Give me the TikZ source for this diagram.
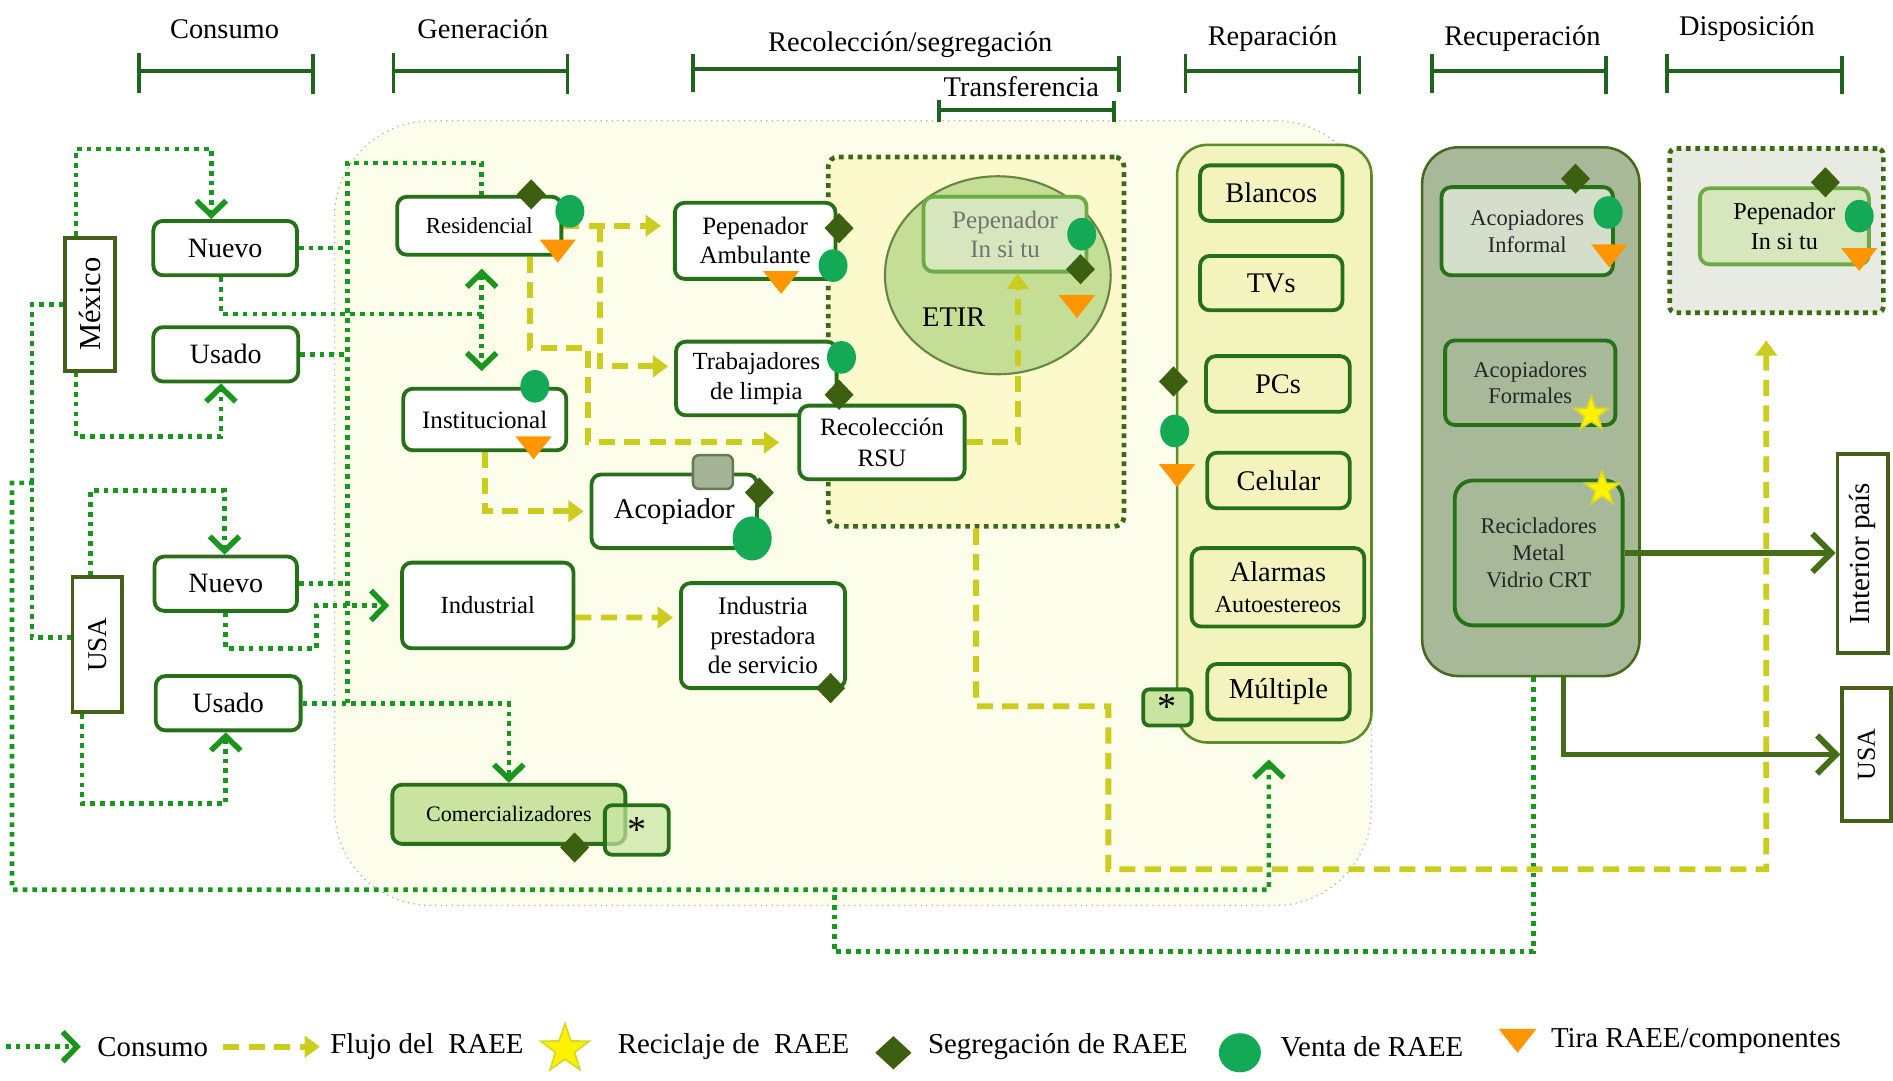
\documentclass[tikz,border=0pt]{standalone}
\usepackage{fontspec}
\setmainfont{Liberation Serif}
\usetikzlibrary{arrows.meta,calc}

\definecolor{cajaverde}{RGB}{38,112,24}
\definecolor{consverde}{RGB}{24,150,30}
\definecolor{flujoamarillo}{RGB}{204,204,30}
\definecolor{segverde}{RGB}{60,96,16}
\definecolor{ventaverde}{RGB}{20,170,85}
\definecolor{tiranaranja}{RGB}{255,150,0}
\definecolor{estrellaborde}{RGB}{215,215,40}
\definecolor{zonafondo}{RGB}{253,253,236}
\definecolor{etirfondo}{RGB}{252,249,204}
\definecolor{etirborde}{RGB}{62,105,20}
\definecolor{etircirculo}{RGB}{196,222,150}
\definecolor{repfondo}{RGB}{243,243,190}
\definecolor{repborde}{RGB}{90,140,40}
\definecolor{recfondo}{RGB}{168,185,154}
\definecolor{recborde}{RGB}{70,105,30}
\definecolor{acofondo}{RGB}{213,221,203}
\definecolor{dispfondo}{RGB}{232,235,226}
\definecolor{pepfondo}{RGB}{214,231,190}
\definecolor{pepborde}{RGB}{110,170,70}
\definecolor{comerfondo}{RGB}{200,228,160}
\definecolor{etiqborde}{RGB}{70,95,25}
\definecolor{exportverde}{RGB}{70,110,25}
\definecolor{barraverde}{RGB}{30,100,30}
\definecolor{grisfondo}{RGB}{165,180,150}
\definecolor{grisborde}{RGB}{100,125,80}

\pgfdeclarelayer{fondo}
\pgfdeclarelayer{lineas}
\pgfsetlayers{fondo,lineas,main}

\tikzset{
  barba/.tip={Straight Barb[length=3.4pt,width=7pt,line width=1.3pt]},
  caja/.style={draw=cajaverde, line width=0.9pt, rounded corners=0.08cm, fill=white, inner sep=0pt, align=center},
  etiqueta/.style={draw=etiqborde, line width=0.9pt, fill=white, inner sep=0pt},
  consumo/.style={draw=consverde, line width=1.1pt, dash pattern=on 1.1pt off 1.2pt, -barba},
  flujo/.style={draw=flujoamarillo, line width=1.4pt, dash pattern=on 3.8pt off 2.2pt, -{Triangle[length=3.6pt,width=5pt]}},
  exporta/.style={draw=exportverde, line width=1.3pt, -{Straight Barb[length=4.5pt,width=9pt,line width=1.4pt]}},
  barra/.style={draw=barraverde, line width=0.9pt},
  encabezado/.style={font=\fontsize{6.7}{7.5}\selectfont, inner sep=0pt},
  leyenda/.style={font=\fontsize{6.8}{7.5}\selectfont, inner sep=0pt, anchor=west},
  seg/.pic={\fill[segverde] (-0.12,0) -- (0,0.125) -- (0.12,0) -- (0,-0.125) -- cycle;},
  venta/.pic={\fill[ventaverde] (0,0) ellipse (0.12 and 0.135);},
  tira/.pic={\fill[tiranaranja] (-0.15,0.075) -- (0.15,0.075) -- (0,-0.115) -- cycle;},
  recicla/.pic={\filldraw[fill=yellow, draw=estrellaborde, line width=0.4pt] (90:0.15) -- (126:0.06) -- (162:0.15) -- (198:0.06) -- (234:0.15) -- (270:0.06) -- (306:0.15) -- (342:0.06) -- (18:0.15) -- (54:0.06) -- cycle;},
}

\begin{document}
\begin{tikzpicture}
  % fondo
  \begin{pgfonlayer}{fondo}
    \useasboundingbox (0,0) rectangle (15.68,-8.95);
    \fill[white] (0,0) rectangle (15.68,-8.95);
    \node[draw=gray!60, densely dotted, line width=0.3pt, fill=zonafondo, rounded corners=0.8cm, minimum width=8.59cm, minimum height=6.50cm, inner sep=0pt] (zonaGen) at (7.065,-4.25) {};
    \node[draw=etirborde, line width=1.1pt, dash pattern=on 1.1pt off 1.1pt, fill=etirfondo, rounded corners=0.08cm, minimum width=2.45cm, minimum height=3.06cm, inner sep=0pt] (etirBox) at (8.085,-2.83) {};
    \filldraw[fill=etircirculo, draw=etirborde!80, line width=0.5pt] (8.265,-2.28) ellipse (0.935 and 0.82);
    \node[draw=repborde, line width=0.6pt, fill=repfondo, rounded corners=0.25cm, minimum width=1.61cm, minimum height=4.95cm, inner sep=0pt] (repPanel) at (10.555,-3.675) {};
    \node[draw=recborde, line width=0.6pt, fill=recfondo, rounded corners=0.3cm, minimum width=1.80cm, minimum height=4.38cm, inner sep=0pt] (recPanel) at (12.68,-3.41) {};
    \node[draw=etirborde, line width=1.1pt, dash pattern=on 1.1pt off 1.1pt, fill=dispfondo, rounded corners=0.05cm, minimum width=1.77cm, minimum height=1.36cm, inner sep=0pt] (dispBox) at (14.715,-1.91) {};
  \end{pgfonlayer}

  % encabezados
  \node[encabezado] (hConsumo) at (1.86,-0.24) {Consumo};
  \draw[barra] (1.15,-0.44) -- (1.15,-0.77) (1.15,-0.585) -- (2.59,-0.585) (2.59,-0.45) -- (2.59,-0.78);
  \node[encabezado] (hGeneracion) at (4.00,-0.24) {Generación};
  \draw[barra] (3.26,-0.44) -- (3.26,-0.77) (3.26,-0.585) -- (4.70,-0.585) (4.70,-0.45) -- (4.70,-0.78);
  \node[encabezado] (hRecoleccion) at (7.54,-0.37) {Recolección/segregación};
  \draw[barra] (5.74,-0.45) -- (5.74,-0.76) (5.74,-0.57) -- (9.27,-0.57) (9.27,-0.46) -- (9.27,-0.76);
  \node[encabezado] (hTransferencia) at (8.46,-0.72) {Transferencia};
  \draw[barra] (7.78,-0.83) -- (7.78,-1.01) (7.78,-0.91) -- (9.23,-0.91) (9.23,-0.84) -- (9.23,-1.01);
  \node[encabezado] (hReparacion) at (10.54,-0.32) {Reparación};
  \draw[barra] (9.82,-0.45) -- (9.82,-0.77) (9.82,-0.585) -- (11.26,-0.585) (11.26,-0.46) -- (11.26,-0.78);
  \node[encabezado] (hRecuperacion) at (12.61,-0.32) {Recuperación};
  \draw[barra] (11.86,-0.45) -- (11.86,-0.77) (11.86,-0.585) -- (13.30,-0.585) (13.30,-0.46) -- (13.30,-0.78);
  \node[encabezado] (hDisposicion) at (14.47,-0.24) {Disposición};
  \draw[barra] (13.81,-0.45) -- (13.81,-0.77) (13.81,-0.585) -- (15.26,-0.585) (15.26,-0.46) -- (15.26,-0.78);

  % consumo
  \node[etiqueta, minimum width=0.41cm, minimum height=1.10cm, font=\fontsize{7.2}{8}\selectfont] (mexico) at (0.745,-2.52) {\rotatebox{90}{México}};
  \node[etiqueta, minimum width=0.41cm, minimum height=1.12cm, font=\fontsize{6.4}{7}\selectfont] (usa) at (0.805,-5.34) {\rotatebox{90}{USA}};
  \node[caja, minimum width=1.19cm, minimum height=0.45cm, font=\fontsize{6.6}{7.5}\selectfont] (mxNuevo) at (1.865,-2.055) {Nuevo};
  \node[caja, minimum width=1.20cm, minimum height=0.45cm, font=\fontsize{6.6}{7.5}\selectfont] (mxUsado) at (1.87,-2.935) {Usado};
  \node[caja, minimum width=1.18cm, minimum height=0.45cm, font=\fontsize{6.6}{7.5}\selectfont] (usNuevo) at (1.87,-4.835) {Nuevo};
  \node[caja, minimum width=1.20cm, minimum height=0.45cm, font=\fontsize{6.6}{7.5}\selectfont] (usUsado) at (1.89,-5.825) {Usado};

  % generacion
  \node[caja, minimum width=1.36cm, minimum height=0.48cm, font=\fontsize{5.4}{6.5}\selectfont] (residencial) at (3.97,-1.87) {Residencial};
  \node[caja, minimum width=1.35cm, minimum height=0.51cm, font=\fontsize{5.9}{6.8}\selectfont] (institucional) at (4.015,-3.475) {Institucional};
  \node[caja, minimum width=1.42cm, minimum height=0.71cm, font=\fontsize{5.8}{6.8}\selectfont] (industrial) at (4.04,-5.015) {Industrial};
  \node[caja, fill=comerfondo, minimum width=1.93cm, minimum height=0.49cm, font=\fontsize{5.2}{6.2}\selectfont] (comercial) at (4.215,-6.745) {Comercializadores};
  \node[caja, fill=comerfondo, fill opacity=0.7, text opacity=1, rounded corners=0.06cm, minimum width=0.53cm, minimum height=0.41cm, font=\fontsize{9}{9}\selectfont] (astCom) at (5.275,-6.875) {*};

  % recoleccion
  \node[caja, minimum width=1.33cm, minimum height=0.63cm, font=\fontsize{5.9}{6.8}\selectfont] (pepAmb) at (6.255,-1.995) {Pepenador\\Ambulante};
  \node[caja, minimum width=1.33cm, minimum height=0.61cm, font=\fontsize{5.8}{7.0}\selectfont] (trabaj) at (6.265,-3.135) {Trabajadores\\de limpia};
  \node[caja, minimum width=1.37cm, minimum height=0.61cm, font=\fontsize{5.9}{7.1}\selectfont] (rsu) at (7.305,-3.665) {Recolección\\RSU};
  \node[caja, minimum width=1.37cm, minimum height=0.61cm, font=\fontsize{6.75}{7.5}\selectfont] (acopiador) at (5.585,-4.235) {Acopiador};
  \node[draw=grisborde, line width=0.6pt, fill=grisfondo, rounded corners=0.05cm, minimum width=0.33cm, minimum height=0.28cm, inner sep=0pt] (acoCuad) at (5.905,-3.91) {};
  \node[caja, minimum width=1.36cm, minimum height=0.87cm, font=\fontsize{5.95}{7.0}\selectfont] (indPrest) at (6.32,-5.265) {Industria\\prestadora\\de servicio};
  \node[caja, draw=pepborde, fill=pepfondo, minimum width=1.35cm, minimum height=0.62cm, text=black!55, font=\fontsize{5.9}{6.8}\selectfont] (pepInsitu) at (8.325,-1.94) {Pepenador\\In si tu};
  \node[font=\fontsize{6.7}{7.5}\selectfont, inner sep=0pt] (etirTxt) at (7.90,-2.63) {ETIR};

  % reparacion
  \node[caja, fill=repfondo, minimum width=1.18cm, minimum height=0.46cm, font=\fontsize{6.7}{7.5}\selectfont] (blancos) at (10.53,-1.60) {Blancos};
  \node[caja, fill=repfondo, minimum width=1.18cm, minimum height=0.45cm, font=\fontsize{6.7}{7.5}\selectfont] (tvs) at (10.53,-2.345) {TVs};
  \node[caja, fill=repfondo, minimum width=1.19cm, minimum height=0.46cm, font=\fontsize{6.7}{7.5}\selectfont] (pcs) at (10.585,-3.18) {PCs};
  \node[caja, fill=repfondo, minimum width=1.18cm, minimum height=0.46cm, font=\fontsize{6.7}{7.5}\selectfont] (celular) at (10.59,-3.98) {Celular};
  \node[caja, fill=repfondo, minimum width=1.43cm, minimum height=0.65cm, font=\fontsize{6.7}{7.4}\selectfont] (alarmas) at (10.585,-4.865) {Alarmas\\{\fontsize{5.7}{7.4}\selectfont Autoestereos}};
  \node[caja, fill=repfondo, minimum width=1.18cm, minimum height=0.46cm, font=\fontsize{6.8}{7.5}\selectfont] (multiple) at (10.59,-5.73) {Múltiple};
  \node[caja, fill=comerfondo, rounded corners=0.05cm, minimum width=0.40cm, minimum height=0.30cm, font=\fontsize{9}{9}\selectfont] (astRep) at (9.67,-5.86) {*};

  % recuperacion
  \node[caja, fill=acofondo, minimum width=1.42cm, minimum height=0.73cm, text=black!85, font=\fontsize{5.3}{6.3}\selectfont] (acoInf) at (12.65,-1.915) {Acopiadores\\Informal};
  \node[caja, fill=recfondo, minimum width=1.41cm, minimum height=0.70cm, text=black!85, font=\fontsize{5.3}{6.3}\selectfont] (acoFor) at (12.675,-3.17) {Acopiadores\\Formales};
  \node[caja, fill=recfondo, rounded corners=0.15cm, minimum width=1.39cm, minimum height=1.20cm, text=black!85, font=\fontsize{5.3}{6.4}\selectfont] (recicl) at (12.745,-4.58) {Recicladores\\Metal\\Vidrio CRT};

  % disposicion y destino
  \node[caja, draw=pepborde, fill=pepfondo, minimum width=1.40cm, minimum height=0.63cm, font=\fontsize{5.7}{7.1}\selectfont] (pepDisp) at (14.78,-1.875) {Pepenador\\In si tu};
  \node[etiqueta, minimum width=0.42cm, minimum height=1.65cm, font=\fontsize{6.85}{7.5}\selectfont] (interior) at (15.43,-4.585) {\rotatebox{90}{Interior país}};
  \node[etiqueta, minimum width=0.40cm, minimum height=1.10cm, font=\fontsize{6.1}{7}\selectfont] (usaR) at (15.46,-6.25) {\rotatebox{90}{USA}};

  % lineas
  \begin{pgfonlayer}{lineas}
    \coordinate (cJ) at (0.28,-4.00);
    \coordinate (dJ) at (6.91,-7.37);
    \coordinate (tronco) at (2.88,-1.35);
    \coordinate (dblJ) at (3.99,-2.60);
    \coordinate (fJ) at (4.97,-1.87);
    \draw[consumo] ([xshift=-1.15mm]mexico.north) -- ++(0,0.72) -| ([xshift=-1.15mm]mxNuevo.north);
    \draw[consumo] ([xshift=-1.15mm]mexico.south) -- ++(0,-0.53) -| ([xshift=-0.4mm]mxUsado.south);
    \draw[consumo, -] (mexico.west) -- ++(-0.26,0) |- ([yshift=0.6mm]usa.west);
    \draw[consumo] (cJ) -- (0.10,-4.00) |- (10.51,-7.37) -- ([xshift=-0.45mm,yshift=-1.3mm]repPanel.south);
    \draw[consumo] ([xshift=-0.55mm]usa.north) -- ++(0,0.70) -| ([xshift=-0.1mm]usNuevo.north);
    \draw[consumo] ([xshift=-1.25mm]usa.south) -- ++(0,-0.74) -| ([xshift=-0.2mm]usUsado.south);
    \draw[consumo, -] (mxNuevo.east) -- (mxNuevo.east -| tronco);
    \draw[consumo, -] (mxUsado.east) -- (mxUsado.east -| tronco);
    \draw[consumo, -] (usNuevo.east) -- (usNuevo.east -| tronco);
    \draw[consumo, -] (usUsado.east -| tronco) -- (tronco) -| (dblJ |- residencial.north);
    \draw[consumo] (usUsado.east) -| (comercial.north);
    \draw[consumo, -] ([xshift=-0.35mm]mxNuevo.south) |- (dblJ);
    \draw[consumo, barba-barba] ($(dblJ |- residencial.south)+(0,-0.1)$) -- ($(dblJ |- institucional.north)+(0,0.13)$);
    \draw[consumo, shorten >=0.9mm] (usNuevo.south) |- (2.62,-5.37) |- (industrial.west);
    \draw[consumo, -] ([xshift=0.2mm]recPanel.south) -- ++(0,-2.27) -| (dJ);
    % flujo
    \draw[flujo, shorten >=1mm] (residencial.east) -- (residencial.east -| pepAmb.west);
    \draw[flujo, shorten >=0.5mm] (fJ) |- ([yshift=1mm]trabaj.west);
    \draw[flujo, shorten >=1.5mm] ([xshift=4.2mm]residencial.south) |- (4.87,-2.88) |- (rsu.west);
    \draw[flujo, shorten >=0.5mm] (institucional.south) |- (acopiador.west);
    \draw[flujo, shorten >=0.5mm] ([yshift=-1mm]industrial.east) -- ($(industrial.east -| indPrest.west)+(0,-0.1)$);
    \draw[flujo] (rsu.east) -| ([xshift=1.05mm]pepInsitu.south);
    \draw[flujo] (etirBox.south) |- (9.18,-5.85) |- (14.63,-7.20) -- ([xshift=-0.85mm,yshift=-2.1mm]dispBox.south);
    % exporta
    \draw[exporta] (recicl.east) -- (recicl.east -| interior.west);
    \draw[exporta] ([xshift=2.7mm]recPanel.south) |- (usaR.west);
  \end{pgfonlayer}

  % marcas
  \pic at (4.40,-1.61) {seg};
  \pic at (4.72,-1.75) {venta};
  \pic at (4.62,-2.06) {tira};
  \pic at (4.43,-3.20) {venta};
  \pic at (4.42,-3.69) {tira};
  \pic at (6.95,-1.89) {seg};
  \pic at (6.90,-2.20) {venta};
  \pic at (6.47,-2.32) {tira};
  \pic at (6.97,-2.96) {venta};
  \pic at (6.95,-3.27) {seg};
  \pic at (6.29,-4.08) {seg};
  \pic[scale=1.35] at (6.23,-4.46) {venta};
  \pic at (6.88,-5.70) {seg};
  \pic at (4.76,-7.02) {seg};
  \pic at (8.96,-1.94) {venta};
  \pic at (8.95,-2.23) {seg};
  \pic at (8.92,-2.52) {tira};
  \pic at (9.72,-3.16) {seg};
  \pic at (9.73,-3.57) {venta};
  \pic at (9.75,-3.92) {tira};
  \pic at (13.05,-1.48) {seg};
  \pic at (13.32,-1.76) {venta};
  \pic at (13.33,-2.10) {tira};
  \pic at (13.18,-3.43) {recicla};
  \pic at (13.27,-4.05) {recicla};
  \pic at (15.12,-1.51) {seg};
  \pic at (15.40,-1.79) {venta};
  \pic at (15.40,-2.13) {tira};

  % leyenda
  \coordinate (lgIni1) at (0.05,-8.67);
  \coordinate (lgIni2) at (1.85,-8.67);
  \node[leyenda] (lgConsumo) at (0.80,-8.67) {Consumo};
  \node[leyenda] (lgFlujo) at (2.73,-8.67) {Flujo del\ \ RAEE};
  \node[leyenda] (lgRecicla) at (5.11,-8.67) {Reciclaje de\ \ RAEE};
  \node[leyenda] (lgSeg) at (7.68,-8.67) {Segregación de RAEE};
  \node[leyenda] (lgVenta) at (10.60,-8.67) {Venta de RAEE};
  \node[leyenda] (lgTira) at (12.84,-8.62) {Tira RAEE/componentes};
  \draw[consumo] (lgIni1) -- ([xshift=-1.3mm]lgConsumo.west);
  \draw[flujo] (lgIni2) -- ([xshift=-0.8mm]lgFlujo.west);
  \pic[scale=1.4] at (4.68,-8.69) {recicla};
  \pic[xscale=1.25, yscale=1.1] at (7.40,-8.72) {seg};
  \pic[xscale=1.45, yscale=1.2] at (10.27,-8.72) {venta};
  \pic[scale=1.05] at (12.57,-8.60) {tira};
\end{tikzpicture}
\end{document}
